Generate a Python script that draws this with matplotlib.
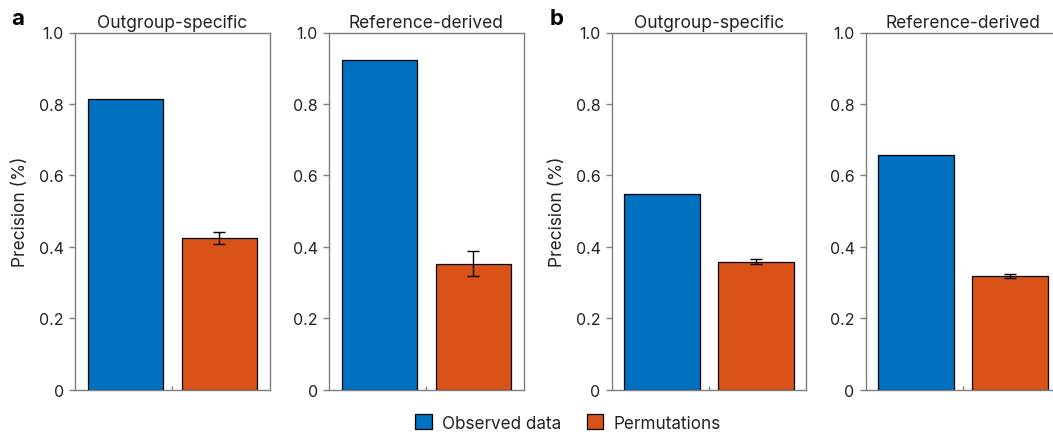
import matplotlib
matplotlib.use("Agg")
import matplotlib.pyplot as plt
from matplotlib.patches import Patch

plt.rcParams['font.family'] = ['Inter', 'DejaVu Sans']

# Data
titles = ["Outgroup-specific", "Reference-derived", "Outgroup-specific", "Reference-derived"]
observed = [0.814, 0.922, 0.548, 0.658]
permuted = [0.425, 0.352, 0.358, 0.319]
perm_err = [0.017, 0.035, 0.007, 0.005]
series_names = ["Observed data", "Permutations"]
yticks = [0, 0.2, 0.4, 0.6, 0.8, 1.0]
yticklabels = ["0", "0.2", "0.4", "0.6", "0.8", "1.0"]
panel_letters = ["a", "b"]

blue = "#0070C0"
orange = "#D95319"
spine_col = "#7f7f7f"
text_col = "#222222"

W, H = 1053, 435
fig = plt.figure(figsize=(W / 100, H / 100), dpi=100)

lefts_px = [75, 329, 611.7, 865.7]
width_px = 194.5
bottom_px = 390.7
top_px = 33.5

for i, lp in enumerate(lefts_px):
    ax = fig.add_axes([lp / W, (H - bottom_px) / H, width_px / W, (bottom_px - top_px) / H])
    ax.bar([0], [observed[i]], width=0.8, color=blue, edgecolor="black", linewidth=0.9, zorder=2)
    ax.bar([1], [permuted[i]], width=0.8, color=orange, edgecolor="black", linewidth=0.9, zorder=2)
    ax.errorbar([1], [permuted[i]], yerr=[perm_err[i]], fmt="none", ecolor="black",
                elinewidth=1.0, capsize=4.5, capthick=1.0, zorder=3)
    ax.set_xlim(-0.535, 1.535)
    ax.set_ylim(0, 1.0)
    ax.set_yticks(yticks)
    ax.set_yticklabels(yticklabels)
    ax.set_xticks([0.5])
    ax.set_xticklabels([""])
    ax.tick_params(axis="x", direction="in", length=3, color=spine_col, width=1)
    ax.tick_params(axis="y", direction="out", length=4, color=spine_col, width=1,
                   labelsize=11.5, labelcolor=text_col, pad=4)
    for s in ax.spines.values():
        s.set_color(spine_col)
        s.set_linewidth(1.0)
    ax.set_title(titles[i], fontsize=12.5, color=text_col, pad=4)
    if i in (0, 2):
        ax.set_ylabel("Precision (%)", fontsize=12.5, color=text_col, labelpad=7)

fig.text(11 / W, 1 - 19 / H, panel_letters[0], fontsize=16, fontweight="bold", va="center", ha="left")
fig.text(550 / W, 1 - 19 / H, panel_letters[1], fontsize=16, fontweight="bold", va="center", ha="left")

handles = [Patch(facecolor=blue, edgecolor="black", linewidth=0.9),
           Patch(facecolor=orange, edgecolor="black", linewidth=0.9)]
fig.legend(handles, series_names, loc="center", bbox_to_anchor=(568 / W, 1 - 424 / H),
           ncol=2, frameon=False, fontsize=12.3, handlelength=0.95, handleheight=0.95,
           handletextpad=0.6, columnspacing=1.5, labelcolor=text_col)

fig.savefig("out.png", dpi=100)
